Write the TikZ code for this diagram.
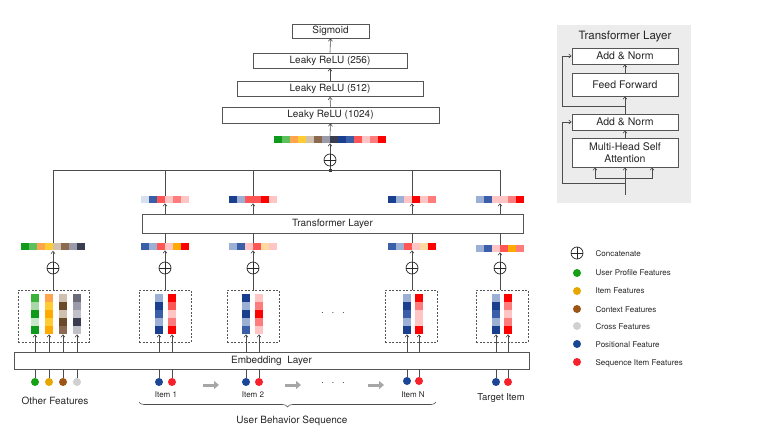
\documentclass[tikz,border=0pt]{standalone}
\usepackage{fontspec}
\setmainfont{TeX Gyre Heros}
\usetikzlibrary{arrows.meta,decorations.pathreplacing,calc}

\definecolor{edge}{HTML}{555555}
\definecolor{panelbg}{HTML}{ECECEC}
\definecolor{gD}{HTML}{0E9A1A}
\definecolor{gM}{HTML}{3CB43C}
\definecolor{gL}{HTML}{5CC05C}
\definecolor{gP}{HTML}{A8D8A8}
\definecolor{gV}{HTML}{C8E6C8}
\definecolor{oL}{HTML}{FFA64D}
\definecolor{oY}{HTML}{FFCC33}
\definecolor{oO}{HTML}{FFAA00}
\definecolor{oC}{HTML}{FFD9A0}
\definecolor{cB}{HTML}{CFC0B0}
\definecolor{cM}{HTML}{8B6A4F}
\definecolor{cD}{HTML}{6B4A2A}
\definecolor{kL}{HTML}{C0C0C8}
\definecolor{kG}{HTML}{9A9AA8}
\definecolor{kM}{HTML}{6A6A78}
\definecolor{kD}{HTML}{3A3D50}
\definecolor{bV}{HTML}{D8E0F0}
\definecolor{bL}{HTML}{9CB0D6}
\definecolor{bM}{HTML}{3B5EA8}
\definecolor{bD}{HTML}{1A3F8F}
\definecolor{rP}{HTML}{FFC4C4}
\definecolor{rL}{HTML}{FF7C7C}
\definecolor{rM}{HTML}{FF5555}
\definecolor{rD}{HTML}{FF0000}
\definecolor{dotG}{HTML}{16A016}
\definecolor{dotO}{HTML}{E6A800}
\definecolor{dotB}{HTML}{9C5514}
\definecolor{dotK}{HTML}{D0D0D0}
\definecolor{dotP}{HTML}{1B4595}
\definecolor{dotR}{HTML}{F5222D}

% horizontal embedding bar: name, centre, cells, colours
\newcommand{\featbar}[4]{%
  \node[minimum width=#3*8, minimum height=7, inner sep=0] (#1) at (#2) {};
  \foreach \c [count=\i from 0] in {#4}
    \fill[\c] ([xshift=\i*8]#1.north west) rectangle ++(8,7);
}
% vertical embedding column: name, centre, colours top to bottom
\newcommand{\featcol}[3]{%
  \node[minimum width=8, minimum height=40, inner sep=0] (#1) at (#2) {};
  \foreach \c [count=\i from 0] in {#3}
    \fill[\c] ([yshift=-\i*8]#1.north west) rectangle ++(8,8);
}

\begin{document}
\begin{tikzpicture}[x=1pt,y=-1pt,line width=0.6pt,>={Straight Barb[length=2.5pt,width=4pt]}]
    \tikzstyle{layer}=[draw=edge, fill=white, inner sep=0, minimum height=15, text=black!85, font=\fontsize{10}{12}\selectfont]
    \tikzstyle{pbox}=[layer, minimum width=106, font=\fontsize{10.5}{12.5}\selectfont]
    \tikzstyle{group}=[draw=edge, dashed, dash pattern=on 2pt off 1.5pt, minimum height=52, inner sep=0]
    \tikzstyle{concat}=[circle, draw=black!85, minimum size=12, inner sep=0, line width=0.7pt,
        path picture={\draw[black!85] (path picture bounding box.north) -- (path picture bounding box.south)
                      (path picture bounding box.west) -- (path picture bounding box.east);}]
    \tikzstyle{arr}=[->, draw=black!70]
    \tikzstyle{wire}=[draw=black!70]
    \tikzstyle{dot}=[circle, inner sep=0, minimum size=8]
    \tikzstyle{lbl}=[text=black!85, font=\fontsize{10}{12}\selectfont]
    \tikzstyle{small}=[text=black!85, font=\fontsize{8}{10}\selectfont]
    \tikzstyle{flow}=[draw=black!35, line width=3pt, -{Triangle[length=5pt,width=8pt]}]

    \useasboundingbox (0,0) rectangle (768,431);

    % output MLP
    \node[layer, minimum width=77, minimum height=14] (sig) at (330.5,31) {Sigmoid};
    \node[layer, minimum width=154] (fc3) at (330,60.5) {Leaky ReLU (256)};
    \node[layer, minimum width=186] (fc2) at (330,89) {Leaky ReLU (512)};
    \node[layer, minimum width=217, minimum height=16] (fc1) at (330.5,115) {Leaky ReLU (1024)};
    \featbar{allbar}{330,139.5}{14}{gD,gL,oL,oY,cB,cM,kG,kD,bD,bM,rM,rP,rL,rD}
    \node[concat] (cat) at (330,160) {};
    \coordinate (junc) at (330,170);

    \draw[arr] (fc3.north) -- (sig.south);
    \draw[arr] (fc2.north) -- (fc3.south);
    \draw[arr] (fc1.north) -- (fc2.south);
    \draw[arr] (allbar.north) -- (fc1.south);
    \draw[arr] (cat.north) -- (allbar.south);
    \draw[wire] (junc) -- (cat.south);
    \fill[black!80] ($(junc)+(-1.5,-1.5)$) rectangle ($(junc)+(1.5,1.5)$);

    % transformer over the sequence
    \node[layer, minimum width=381, minimum height=19] (trans) at (332.5,223.5) {Transformer Layer};

    \featbar{out1}{165,199.5}{6}{bV,bM,rM,rP,rL,rP}
    \featbar{out2}{253,199.5}{6}{bD,bL,rM,rM,rD,rP}
    \featbar{outN}{412,199.5}{6}{bD,bL,rP,rD,rP,rL}
    \featbar{outT}{500,199.5}{6}{bL,bM,rP,rP,rL,rD}

    \featbar{in0}{53,247}{8}{gD,gL,oL,oY,cB,cM,kG,kD}
    \featbar{in1}{165,246.5}{6}{bM,bL,rM,rP,oO,rD}
    \featbar{in2}{253,246.5}{6}{bL,bM,rP,rM,oC,rP}
    \featbar{inN}{412,246.5}{6}{bM,bL,rM,rP,oC,rD}
    \featbar{inT}{500,248.5}{6}{bL,bM,rP,rM,oO,rL}

    \draw[wire] (in0.north) |- (outT.north |- junc);
    \foreach \n in {out1,out2,outN,outT}
        \draw[wire] (\n.north) -- (\n.north |- junc);
    \foreach \n/\m in {in1/out1,in2/out2,inN/outN,inT/outT} {
        \draw[wire] (\n.north) -- (\n.north |- trans.south);
        \draw[arr] (\m.south |- trans.north) -- (\m.south);
    }

    % concatenation of the embeddings
    \node[concat] (cat0) at (53,268) {};
    \node[concat] (cat1) at (165,268) {};
    \node[concat] (cat2) at (253,268) {};
    \node[concat] (catN) at (412,268) {};
    \node[concat] (catT) at (500,268) {};

    \node[group, minimum width=71] (grp0) at (53.5,316) {};
    \node[group, minimum width=52] (grp1) at (165,316) {};
    \node[group, minimum width=52] (grp2) at (253,316) {};
    \node[group, minimum width=52] (grpN) at (411,316) {};
    \node[group, minimum width=52] (grpT) at (502,316) {};

    \foreach \n in {0,1,2,N,T} {
        \draw[arr] (cat\n.north) -- (in\n.south);
        \draw[wire] (grp\n.north -| cat\n) -- (cat\n.south);
    }

    \featcol{f0a}{35,314}{gM,gP,gD,gV,gD}
    \featcol{f0b}{49,314}{oL,oY,oO,oY,oO}
    \featcol{f0c}{63,314}{cB,cD,cB,cD,cM}
    \featcol{f0d}{77,314}{kM,kG,kL,kD,kL}
    \featcol{f1a}{159,314}{bL,bD,bM,bL,bD}
    \featcol{f1b}{172,314}{rD,rM,rP,rL,rD}
    \featcol{f2a}{246,314}{bD,bL,bD,bL,bM}
    \featcol{f2b}{259,314}{rP,rL,rD,rL,rP}
    \featcol{fNa}{407,314}{bL,bD,bM,bL,bD}
    \featcol{fNb}{419,314}{rD,rL,rP,rP,rD}
    \featcol{fTa}{496,314}{bL,bD,bM,bL,bD}
    \featcol{fTb}{508,314}{rD,rL,rP,rL,rD}

    \node[text=black!85, font=\fontsize{10}{12}\selectfont] (gap) at (333,313) {$\cdot\ \ \cdot\ \ \cdot$};

    % embedding layer and raw features
    \node[layer, minimum width=515, minimum height=17] (emb) at (271.5,360.5) {Embedding\ \ Layer};

    \foreach \c in {f0a,f0b,f0c,f0d,f1a,f1b,f2a,f2b,fNa,fNb,fTa,fTb}
        \draw[arr] (\c.south |- emb.north) -- (\c.south);

    \node[dot, fill=dotG] (d0a) at (35,382) {};
    \node[dot, fill=dotO] (d0b) at (49,382) {};
    \node[dot, fill=dotB] (d0c) at (63,382) {};
    \node[dot, fill=dotK] (d0d) at (77,382) {};
    \node[dot, fill=dotP] (d1a) at (159,382) {};
    \node[dot, fill=dotR] (d1b) at (172,382) {};
    \node[dot, fill=dotP] (d2a) at (246,382) {};
    \node[dot, fill=dotR] (d2b) at (259,382) {};
    \node[dot, fill=dotP] (dNa) at (407,381) {};
    \node[dot, fill=dotR] (dNb) at (419,381) {};
    \node[dot, fill=dotP] (dTa) at (496,382) {};
    \node[dot, fill=dotR] (dTb) at (508,382) {};

    \foreach \c in {d0a,d0b,d0c,d0d,d1a,d1b,d2a,d2b,dNa,dNb,dTa,dTb}
        \draw[wire] (\c.north) -- (\c.north |- emb.south);

    \draw[flow] (203,385) -- (219,385);
    \draw[flow] (285,385) -- (301,385);
    \draw[flow] (368,385) -- (384,385);
    \node[text=black!85, font=\fontsize{10}{12}\selectfont] (gap2) at (333,383) {$\cdot\ \ \cdot\ \ \cdot$};

    \node[lbl] (oth) at (55,401) {Other Features};
    \node[small] (it1) at (166,395) {Item 1};
    \node[small] (it2) at (253,395) {Item 2};
    \node[small] (itN) at (413,395) {Item N};
    \node[lbl, font=\fontsize{9.5}{11}\selectfont] (tgt) at (501,398) {Target Item};

    \coordinate (seqL) at (139,402);
    \coordinate (seqR) at (436,402);
    \draw[wire, decorate, decoration={brace, mirror, amplitude=5pt}] (seqL) -- (seqR);
    \node[lbl] (seq) at (292,421) {User Behavior Sequence};

    % transformer layer detail
    \node[fill=panelbg, minimum width=134, minimum height=178, inner sep=0] (panel) at (624,114) {};
    \node[lbl, font=\fontsize{11.5}{13}\selectfont] (ptitle) at (625,37) {Transformer Layer};
    \node[pbox, minimum height=16] (an2) at (625,56) {Add \& Norm};
    \node[pbox, minimum height=23] (ff) at (625,84.5) {Feed Forward};
    \node[pbox, minimum height=16] (an1) at (625,122) {Add \& Norm};
    \node[pbox, minimum height=29, align=center] (mhsa) at (625,152.5) {Multi-Head Self\\Attention};

    \coordinate (pin) at (625,195);
    \coordinate (split) at (625,178);
    \coordinate (res1) at (625,183);
    \coordinate (res2) at (625,106);
    \draw[arr] (pin) -- (mhsa.south);
    \draw[arr] (split) -| ([xshift=-30]mhsa.south);
    \draw[arr] (split) -| ([xshift=27]mhsa.south);
    \draw[arr] (res1) -| ([xshift=-9]an1.west) -- (an1.west);
    \draw[arr] (mhsa.north) -- (an1.south);
    \draw[arr] (an1.north) -- (ff.south);
    \draw[arr] (res2) -| ([xshift=-9]an2.west) -- (an2.west);
    \draw[arr] (ff.north) -- (an2.south);

    % legend
    \node[concat] (lcat) at (577,253) {};
    \node[dot, fill=dotG] (lg) at (577,273) {};
    \node[dot, fill=dotO] (lo) at (577,291) {};
    \node[dot, fill=dotB] (lb) at (577,309) {};
    \node[dot, fill=dotK] (lk) at (577,326) {};
    \node[dot, fill=dotP] (lp) at (577,344) {};
    \node[dot, fill=dotR] (lr) at (577,362) {};
    \node[small, anchor=west] at (592,254) {Concatenate};
    \node[small, anchor=west] at (592,273) {User Profile Features};
    \node[small, anchor=west] at (592,291) {Item Features};
    \node[small, anchor=west] at (592,310) {Context Features};
    \node[small, anchor=west] at (592,327) {Cross Features};
    \node[small, anchor=west] at (592,345) {Positional Feature};
    \node[small, anchor=west] at (592,363) {Sequence Item Features};
\end{tikzpicture}
\end{document}
